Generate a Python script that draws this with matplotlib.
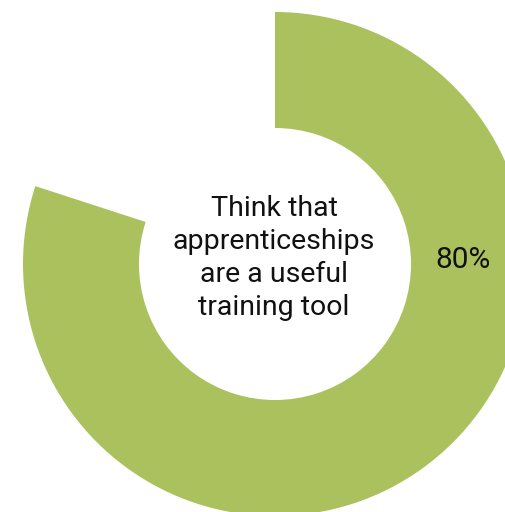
import matplotlib.pyplot as plt

# data
labels = ["Think that apprenticeships are a useful training tool", "Other"]
shares = [80, 20]
colors = ["#AAC15E", "none"]
center_text = "Think that\napprenticeships\nare a useful\ntraining tool"

plt.rcParams['font.family'] = ['Roboto', 'DejaVu Sans']

fig = plt.figure(figsize=(5.06, 5.12), dpi=100)
ax = fig.add_axes([0, 0, 1, 1])
ax.set_xlim(0, 506)
ax.set_ylim(0, 512)
ax.set_aspect('equal')
ax.axis('off')

cx, cy = 275, 248
wedges, _ = ax.pie(shares, colors=colors, startangle=90, counterclock=False,
                   radius=252, center=(cx, cy),
                   wedgeprops=dict(width=116, edgecolor='none'))
ax.set_xlim(0, 506)
ax.set_ylim(0, 512)

ax.text(cx - 1, cy + 6, center_text, ha='center', va='center', fontsize=20.5,
        linespacing=1.29, color='#111111')
ax.text(463, 252, f"{shares[0]}%", ha='center', va='center', fontsize=21.5,
        color='#111111')

fig.savefig("out.png", dpi=100)
